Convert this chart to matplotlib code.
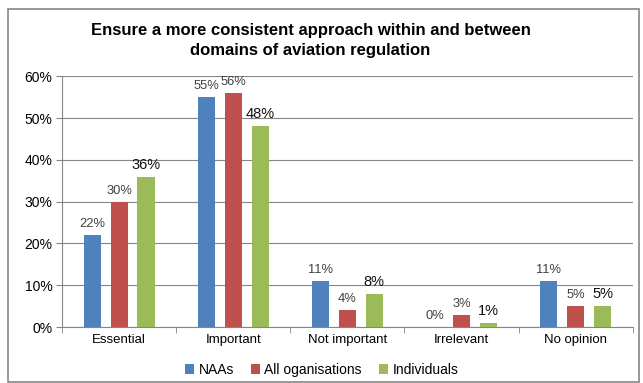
import numpy as np
import matplotlib.pyplot as plt
from matplotlib.patches import Rectangle

plt.rcParams['font.family'] = ['Liberation Sans', 'DejaVu Sans']

categories = ['Essential', 'Important', 'Not important', 'Irrelevant', 'No opinion']
naas = [22, 55, 11, 0, 11]
all_orgs = [30, 56, 4, 3, 5]
individuals = [36, 48, 8, 1, 5]

series = [
    ('NAAs', naas, '#4F81BD'),
    ('All oganisations', all_orgs, '#C0504D'),
    ('Individuals', individuals, '#9BBB59'),
]

fig = plt.figure(figsize=(6.43, 3.83), dpi=100)
ax = fig.add_axes([0.0964, 0.146, 0.8876, 0.655])

# outer chart border
fig.patches.append(Rectangle((8 / 643, 0.002), 631 / 643, 1 - 9 / 383 - 0.002,
                             transform=fig.transFigure, fill=False,
                             edgecolor='#868686', linewidth=1.2))

x = np.arange(len(categories))
width = 0.149
step = 0.236
for i, (name, vals, color) in enumerate(series):
    pos = x + (i - 1) * step
    bars = ax.bar(pos, vals, width, color=color, label=name, zorder=3)
    for b, v in zip(bars, vals):
        if name == 'Individuals':
            ax.text(b.get_x() + b.get_width() / 2, v + 1.2, f'{v}%', ha='center',
                    va='bottom', fontsize=10.5, color='#111111')
        else:
            ax.text(b.get_x() + b.get_width() / 2, v + 1.2, f'{v}%', ha='center',
                    va='bottom', fontsize=9.3, color='#404040')

ax.set_xlim(-0.5, len(categories) - 0.5)
ax.set_ylim(0, 60)
ax.set_yticks(np.arange(0, 61, 10))
ax.set_yticklabels([f'{t}%' for t in range(0, 61, 10)], fontsize=10)
ax.set_xticks(x)
ax.set_xticklabels(categories, fontsize=9.5)
ax.tick_params(axis='x', length=0, pad=5)
ax.set_xticks(np.arange(-0.5, len(categories), 1), minor=True)
ax.tick_params(axis='x', which='minor', length=4, color='#868686', direction='out')
ax.tick_params(axis='y', length=4, color='#868686', direction='out', pad=3)
ax.grid(axis='y', color='#868686', linewidth=0.8, zorder=0)
for side in ['top', 'right']:
    ax.spines[side].set_visible(False)
for side in ['left', 'bottom']:
    ax.spines[side].set_color('#868686')

fig.text(0.483, 0.895, 'Ensure a more consistent approach within and between\ndomains of aviation regulation',
         ha='center', va='center', fontsize=12, fontweight='bold', linespacing=1.4)

fig.legend(loc='center', bbox_to_anchor=(0.5, 0.035), ncol=3, frameon=False,
           fontsize=10, handlelength=0.7, handleheight=0.7, handletextpad=0.3,
           columnspacing=1.2)

fig.savefig('out.png', dpi=100)
